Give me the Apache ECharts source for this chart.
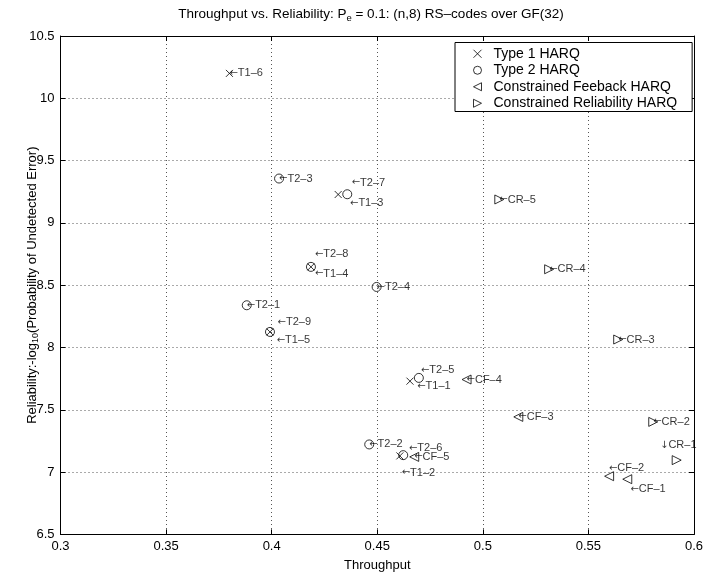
<!DOCTYPE html>
<html>
<head>
<meta charset="utf-8">
<script src="https://cdn.jsdelivr.net/npm/echarts@6/dist/echarts.min.js"></script>
<style>
  html, body { margin: 0; padding: 0; background: #fff; }
  #chart { width: 705px; height: 576px; }
</style>
</head>
<body>
<div id="chart"></div>
<script>
const FONT = '"Liberation Sans", Arial, Helvetica, sans-serif';
const ARROW_FONT = '"DejaVu Sans", sans-serif';

// Type 1 HARQ (T1-1 .. T1-6)
const type1X = [0.4655, 0.4607, 0.4315, 0.4186, 0.3992, 0.3800];
const type1Y = [7.730, 7.130, 9.228, 8.647, 8.125, 10.200];

// Type 2 HARQ (T2-1 .. T2-9)
const type2X = [0.3882, 0.4462, 0.4035, 0.4497, 0.4697, 0.4623, 0.4358, 0.4186, 0.3992];
const type2Y = [8.339, 7.222, 9.356, 8.486, 7.756, 7.136, 9.230, 8.647, 8.125];

// Constrained feedback HARQ (CF-1 .. CF-5)
const cfX = [0.5684, 0.5598, 0.5168, 0.4923, 0.4675];
const cfY = [6.943, 6.967, 7.443, 7.743, 7.122];

// Constrained reliability HARQ (CR-1 .. CR-5)
const crX = [0.5918, 0.5807, 0.5641, 0.5314, 0.5078];
const crY = [7.096, 7.403, 8.064, 8.628, 9.188];

// Text annotations, anchored at data coordinates (left / middle aligned)
const noteArrow = [
  '←', '←', '←', '←', '←', '←', '←', '←', '←', '←', '←', '←', '←',
  '←', '←', '←', '←', '←', '←', '←', '↓', '←', '←', '←', '←'
];
const noteText = [
  'T1–6', 'T2–3', 'T2–7', 'T1–3', 'T2–8', 'T1–4', 'T2–4', 'T2–1',
  'T2–9', 'T1–5', 'T2–5', 'T1–1', 'CF–4', 'CF–3', 'T2–2', 'T2–6',
  'CF–5', 'T1–2', 'CF–2', 'CF–1', 'CR–1', 'CR–2', 'CR–3', 'CR–4', 'CR–5'
];
const noteX = [
  0.3800, 0.4035, 0.4379, 0.4371, 0.4205, 0.4205, 0.4497, 0.3882,
  0.4028, 0.4024, 0.4707, 0.4689, 0.4923, 0.5168, 0.4462, 0.4650,
  0.4675, 0.4616, 0.5597, 0.5699, 0.5839, 0.5807, 0.5641, 0.5314, 0.5078
];
const noteY = [
  10.200, 9.356, 9.324, 9.160, 8.750, 8.594, 8.486, 8.339,
  8.201, 8.059, 7.818, 7.689, 7.743, 7.443, 7.222, 7.194,
  7.122, 6.997, 7.031, 6.863, 7.216, 7.403, 8.064, 8.628, 9.188
];

const xTickLabels = ['0.3', '0.35', '0.4', '0.45', '0.5', '0.55', '0.6'];
const yTickLabels = ['6.5', '7', '7.5', '8', '8.5', '9', '9.5', '10', '10.5'];

const seriesNames = ['Type 1 HARQ', 'Type 2 HARQ', 'Constrained Feeback HARQ', 'Constrained Reliability HARQ'];

const pairs = (xs, ys) => xs.map((x, i) => [x, ys[i]]);

const markerStyle = { color: 'transparent', borderColor: '#000', borderWidth: 1 };

const chart = echarts.init(document.getElementById('chart'), null, { renderer: 'canvas' });

const axisCommon = {
  type: 'value',
  axisLine: { show: true, onZero: false, lineStyle: { color: '#000', width: 1 } },
  axisTick: { show: true, inside: true, length: 5, lineStyle: { color: '#000', width: 1 } },
  splitLine: { show: false }
};

const gridDots = { show: true, lineStyle: { color: '#555', width: 1, type: [1, 3] } };

chart.setOption({
  animation: false,
  backgroundColor: '#fff',
  title: {
    text: 'Throughput vs. Reliability: P{sub|e} = 0.1: (n,8) RS–codes over GF(32)',
    left: 366,
    textAlign: 'center',
    top: 2,
    textStyle: {
      fontFamily: FONT, fontSize: 13.5, fontWeight: 'normal', color: '#000',
      rich: {
        sub: { fontFamily: FONT, fontSize: 9.5, lineHeight: 10, padding: [8, 0, 0, 0], color: '#000' }
      }
    }
  },
  grid: {
    left: 60.5, top: 36, width: 633.5, height: 498.4,
    containLabel: false, outerBoundsMode: 'none'
  },
  legend: {
    orient: 'vertical',
    left: 455,
    top: 42.5,
    data: seriesNames,
    backgroundColor: '#fff',
    borderColor: '#000',
    borderWidth: 1,
    borderRadius: 0,
    padding: [3, 15, 0, 18],
    itemGap: 0,
    itemWidth: 22,
    itemHeight: 8,
    selectedMode: false,
    itemStyle: { color: 'transparent', borderColor: '#000', borderWidth: 1 },
    textStyle: { fontFamily: FONT, fontSize: 14, color: '#000', lineHeight: 16.5 }
  },
  xAxis: [
    Object.assign({}, axisCommon, {
      min: 0.3, max: 0.6, interval: 0.05, position: 'bottom',
      axisLabel: {
        show: true, margin: 6, color: '#000', fontFamily: FONT, fontSize: 13,
        formatter: (v, i) => xTickLabels[i]
      },
      splitLine: gridDots,
      name: 'Throughput',
      nameLocation: 'middle',
      nameGap: 25,
      nameMoveOverlap: false,
      nameTextStyle: { fontFamily: FONT, fontSize: 13, color: '#000' }
    }),
    Object.assign({}, axisCommon, {
      min: 0.3, max: 0.6, interval: 0.05, position: 'top',
      axisLabel: { show: false }
    })
  ],
  yAxis: [
    Object.assign({}, axisCommon, {
      min: 6.5, max: 10.5, interval: 0.5, position: 'left',
      axisLabel: {
        show: true, margin: 6, color: '#000', fontFamily: FONT, fontSize: 13,
        formatter: (v, i) => yTickLabels[i]
      },
      splitLine: gridDots,
      name: 'Reliability:-log{sub|10}(Probability of Undetected Error)',
      nameLocation: 'middle',
      nameGap: 22,
      nameMoveOverlap: false,
      nameTextStyle: {
        fontFamily: FONT, fontSize: 13, color: '#000',
        rich: {
          sub: { fontFamily: FONT, fontSize: 9, lineHeight: 10, padding: [8, 0, 0, 0], color: '#000' }
        }
      }
    }),
    Object.assign({}, axisCommon, {
      min: 6.5, max: 10.5, interval: 0.5, position: 'right',
      axisLabel: { show: false }
    })
  ],
  series: [
    {
      name: seriesNames[0], type: 'scatter',
      symbol: 'path://M0,0L10,10M10,0L0,10', symbolSize: 7,
      itemStyle: markerStyle, emphasis: { disabled: true },
      data: pairs(type1X, type1Y), z: 3
    },
    {
      name: seriesNames[1], type: 'scatter',
      symbol: 'circle', symbolSize: 9,
      itemStyle: markerStyle, emphasis: { disabled: true },
      data: pairs(type2X, type2Y), z: 3
    },
    {
      name: seriesNames[2], type: 'scatter',
      symbol: 'path://M10,0L0,5L10,10Z', symbolSize: 9,
      itemStyle: markerStyle, emphasis: { disabled: true },
      data: pairs(cfX, cfY), z: 3
    },
    {
      name: seriesNames[3], type: 'scatter',
      symbol: 'path://M0,0L10,5L0,10Z', symbolSize: 9,
      itemStyle: markerStyle, emphasis: { disabled: true },
      data: pairs(crX, crY), z: 3
    },
    {
      name: 'notes', type: 'scatter',
      symbolSize: 1,
      itemStyle: { color: 'transparent' },
      silent: true,
      emphasis: { disabled: true },
      data: noteX.map((x, i) => [x, noteY[i], noteArrow[i], noteText[i]]),
      label: {
        show: true, position: 'inside', align: 'left', verticalAlign: 'middle',
        formatter: p => '{a|' + p.value[2] + '}' + p.value[3],
        fontFamily: FONT, fontSize: 11, color: '#000',
        rich: {
          a: { fontFamily: ARROW_FONT, fontSize: 10, color: '#000' }
        }
      },
      z: 4
    }
  ]
});
</script>
</body>
</html>
